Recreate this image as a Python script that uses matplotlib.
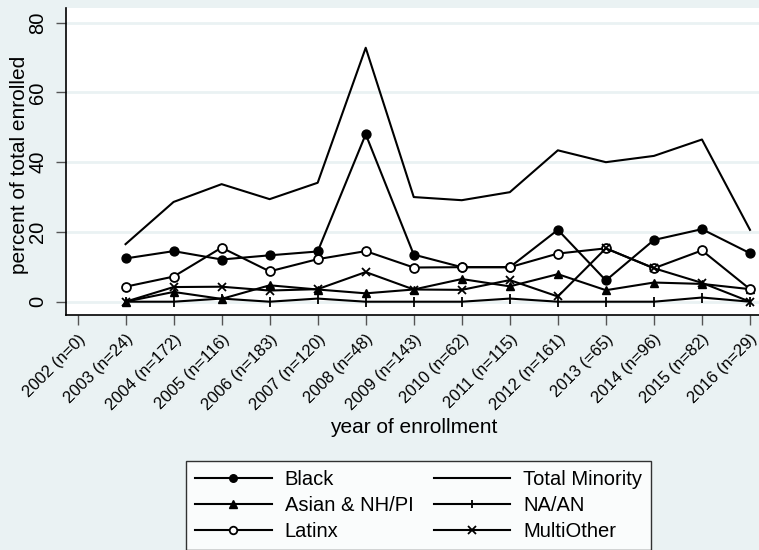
import numpy as np
import matplotlib
matplotlib.use("Agg")
import matplotlib.pyplot as plt
import matplotlib.transforms as mtransforms

plt.rcParams['font.family'] = ['Liberation Sans', 'DejaVu Sans']

years = [2002, 2003, 2004, 2005, 2006, 2007, 2008, 2009, 2010, 2011, 2012, 2013, 2014, 2015, 2016]
tick_labels = ["2002 (n=0)", "2003 (n=24)", "2004 (n=172)", "2005 (n=116)", "2006 (n=183)",
               "2007 (n=120)", "2008 (n=48)", "2009 (n=143)", "2010 (n=62)", "2011 (n=115)",
               "2012 (n=161)", "2013 (=65)", "2014 (n=96)", "2015 (n=82)", "2016 (n=29)"]

nan = np.nan
black = [nan, 12.4, 14.5, 12.1, 13.3, 14.4, 48.0, 13.5, 9.9, 9.9, 20.6, 6.1, 17.7, 20.8, 13.9]
asian = [nan, 0.0, 2.8, 0.8, 4.7, 3.5, 2.4, 3.5, 6.5, 4.4, 7.9, 3.3, 5.5, 5.1, 3.6]
latinx = [nan, 4.3, 7.2, 15.5, 8.7, 12.2, 14.5, 9.8, 9.9, 9.9, 13.8, 15.3, 9.6, 14.7, 3.6]
total_minority = [nan, 16.5, 28.6, 33.7, 29.4, 34.1, 72.8, 30.0, 29.1, 31.4, 43.4, 40.0, 41.8, 46.5, 20.6]
na_an = [nan, 0.0, 0.0, 0.9, 0.0, 0.9, 0.0, 0.0, 0.0, 0.9, 0.0, 0.0, 0.0, 1.2, 0.0]
multi_other = [nan, 0.0, 4.2, 4.3, 3.2, 3.6, 8.5, 3.5, 3.4, 6.2, 1.5, 15.3, 9.6, 5.4, 0.0]

bg = '#EAF2F3'
fig = plt.figure(figsize=(7.59, 5.5), dpi=100, facecolor=bg)
ax = fig.add_axes([65.5 / 759, 1 - 315 / 550, (762 - 65.5) / 759, (315 - 8) / 550])
ax.set_facecolor('white')

lw = 1.5
ms = 6.4
ax.plot(years, black, color='black', lw=lw, marker='o', ms=ms, mfc='black', mec='black', label='Black')
ax.plot(years, asian, color='black', lw=lw, marker='^', ms=ms, mfc='black', mec='black', label='Asian & NH/PI')
ax.plot(years, latinx, color='black', lw=lw, marker='o', ms=ms, mfc='white', mec='black', mew=1.3, label='Latinx')
ax.plot(years, total_minority, color='black', lw=lw, label='Total Minority')
ax.plot(years, na_an, color='black', lw=lw, marker='|', ms=ms + 1, mew=1.3, label='NA/AN')
ax.plot(years, multi_other, color='black', lw=lw, marker='x', ms=ms, mew=1.3, label='MultiOther')

ax.set_xlim(2001.75, 2016.25)
ax.set_ylim(-3.81, 84.2)

ax.set_yticks([0, 20, 40, 60, 80])
ax.set_yticklabels(['0', '20', '40', '60', '80'], rotation=90, va='center', fontsize=14.5)
ax.yaxis.grid(True, color=bg, lw=2)
ax.set_axisbelow(True)

ax.set_xticks(years)
ax.set_xticklabels(tick_labels, rotation=45, ha='right', va='top', rotation_mode='anchor', fontsize=12)
shift = mtransforms.ScaledTranslation(-5 / 100, 0, fig.dpi_scale_trans)
for lab in ax.get_xticklabels():
    lab.set_transform(lab.get_transform() + shift)

ax.tick_params(axis='both', direction='out', length=7, width=1, color='#555555')
ax.tick_params(axis='x', pad=5)
ax.tick_params(axis='y', pad=6)

for s in ['top', 'right']:
    ax.spines[s].set_visible(False)
for s in ['left', 'bottom']:
    ax.spines[s].set_linewidth(1.2)
    ax.spines[s].set_color('black')

ax.set_ylabel('percent of total enrolled', fontsize=15)
ax.yaxis.set_label_coords(-0.053, 0.49)
ax.set_xlabel('year of enrollment', fontsize=15)
ax.xaxis.set_label_coords(0.5, -0.335)

leg = fig.legend(loc='upper left', bbox_to_anchor=(176 / 759, 1 - 451 / 550), ncol=2,
                 fontsize=14.5, frameon=True, fancybox=False, edgecolor='black',
                 handlelength=3.8, handletextpad=0.65, columnspacing=1.0,
                 labelspacing=0.35, borderpad=0.45, markerscale=0.85)
leg.get_frame().set_linewidth(1.0)
leg.get_frame().set_facecolor('white')

fig.savefig('out.png', dpi=100, facecolor=bg)
